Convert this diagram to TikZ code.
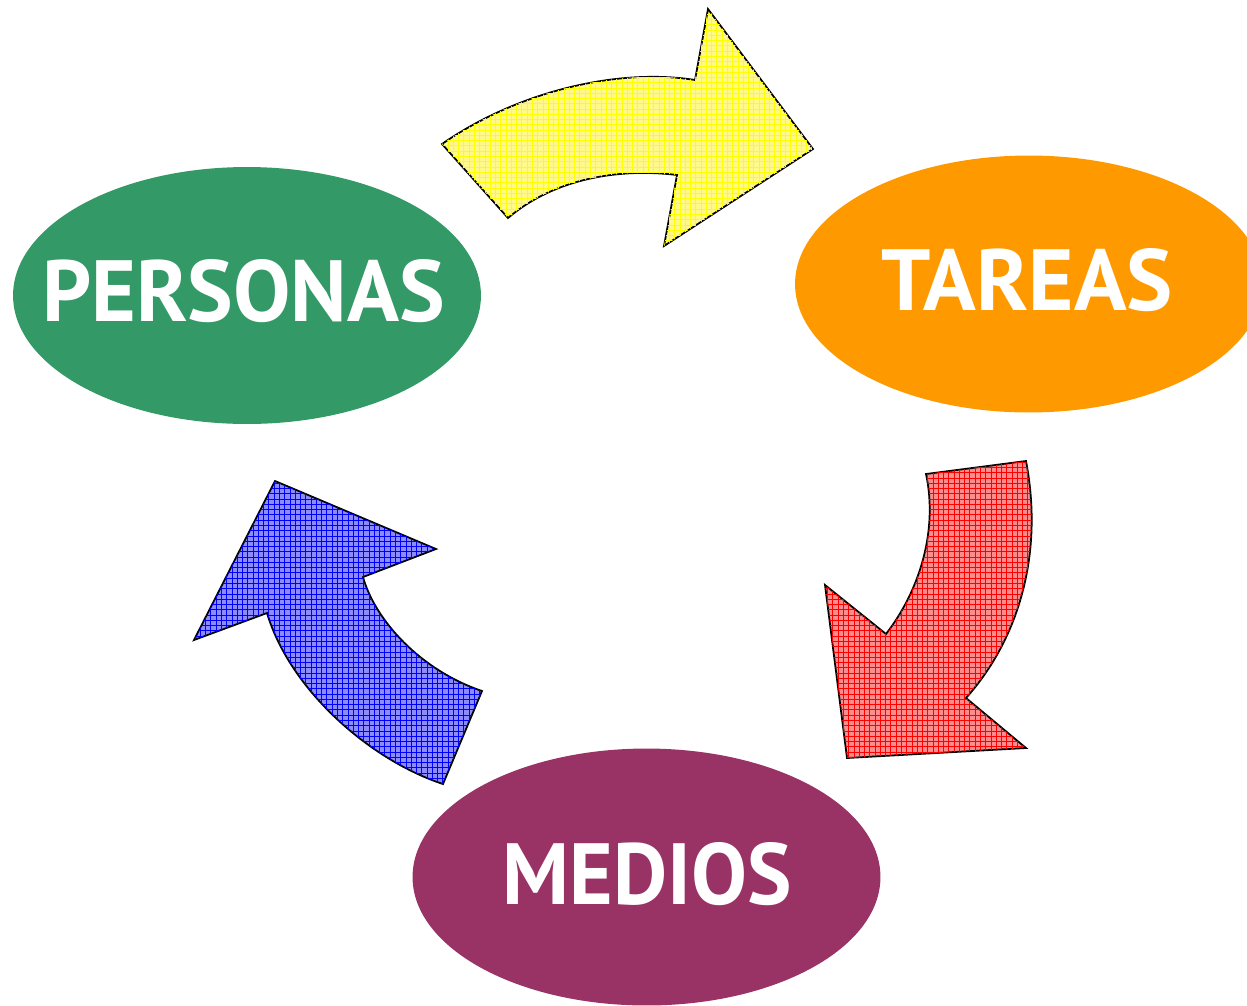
\documentclass[tikz,border=0pt]{standalone}
\usepackage{graphicx}
\usepackage{fontspec}
\newfontfamily\labfont{PT Sans}
\usetikzlibrary{shapes.geometric,patterns}
\definecolor{cGreen}{HTML}{339966}
\definecolor{cOrange}{HTML}{FF9900}
\definecolor{cPurple}{HTML}{993366}
\tikzset{
  bubble/.style={ellipse, inner sep=0pt, minimum width=9.36cm, minimum height=5.14cm, draw=none},
  lab/.style={inner sep=0pt, text=white, font=\labfont\bfseries},
  shapearrow/.style={draw=black, line width=1pt, line join=miter},
}
\begin{document}
\begin{tikzpicture}[x=0.02cm, y=-0.02cm]
\useasboundingbox (0,0) rectangle (1247,1005);
% ellipses
\node[bubble, fill=cGreen] (personas) at (247,295.5) {};
\node[bubble, fill=cOrange] (tareas) at (1029,284) {};
\node[bubble, fill=cPurple] (medios) at (646.5,877) {};
% labels
\node[lab] (personasT) at (243.5,291) {\resizebox{8.06cm}{1.24cm}{\labfont\bfseries PERSONAS}};
\node[lab] (tareasT) at (1027,280) {\resizebox{5.84cm}{1.24cm}{\labfont\bfseries TAREAS}};
\node[lab] (mediosT) at (647.5,874) {\resizebox{5.78cm}{1.24cm}{\labfont\bfseries MEDIOS}};
% yellow arrow
\filldraw[shapearrow, fill=yellow!45, postaction={pattern=grid, pattern color=yellow}]
  (442,144) .. controls (520,90) and (620,68) .. (695,80) -- (708,9) -- (813,149)
  -- (664,246) -- (677,175) .. controls (620,168) and (555,178) .. (508,218) -- cycle;
% red arrow
\filldraw[shapearrow, fill=red!45, postaction={pattern=grid, pattern color=red}]
  (926,474) .. controls (938,530) and (920,590) .. (886,634) -- (825,585) -- (847,758)
  -- (1026,748) -- (966,698) .. controls (1018,640) and (1044,555) .. (1026,461) -- cycle;
% blue arrow
\filldraw[shapearrow, fill=blue!45, postaction={pattern=grid, pattern color=blue}]
  (275,481) -- (436,549) -- (363,577) .. controls (375,620) and (420,670) .. (482,691)
  -- (443,784) .. controls (370,760) and (290,690) .. (267,613) -- (194,640) -- cycle;
\end{tikzpicture}
\end{document}
